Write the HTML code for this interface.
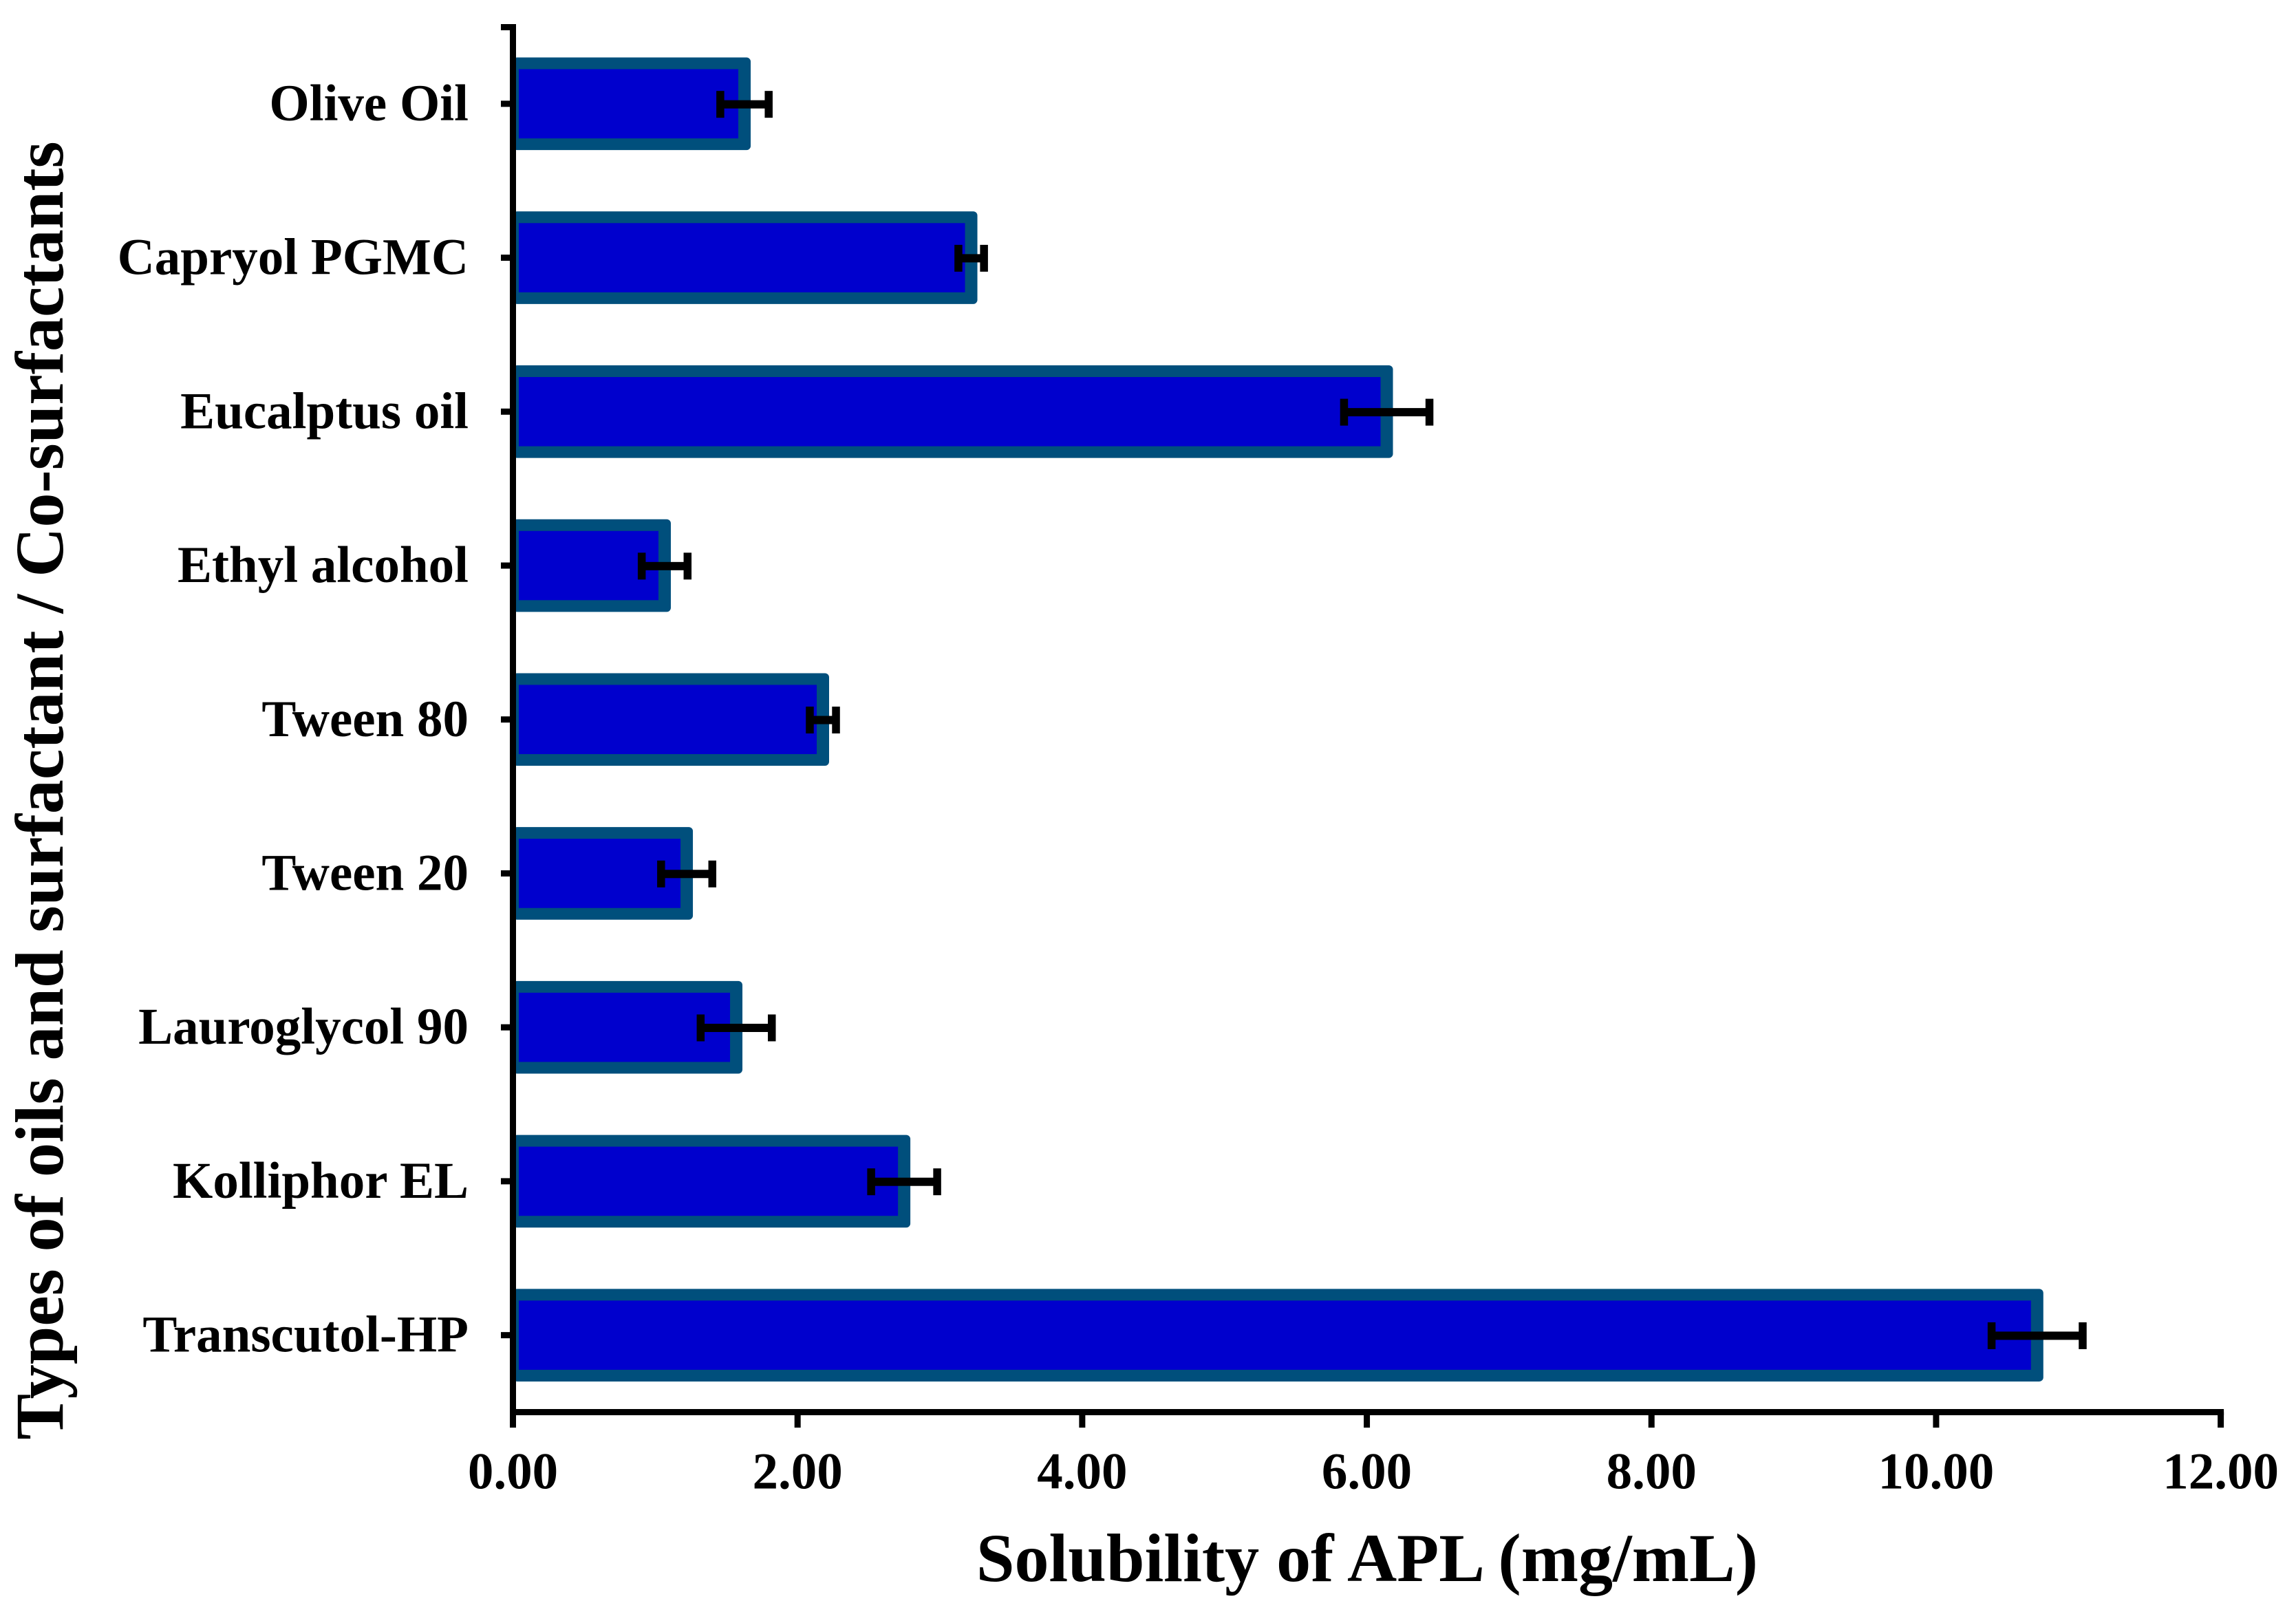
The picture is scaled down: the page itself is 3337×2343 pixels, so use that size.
<!DOCTYPE html>
<html lang="en">
<head>
<meta charset="utf-8">
<title>Solubility of APL</title>
<style>
html,body{margin:0;padding:0;background:#fff;}
svg{display:block;}
text{font-family:"Liberation Serif",serif;font-weight:bold;fill:#000;}
</style>
</head>
<body>
<svg id="chart" xmlns="http://www.w3.org/2000/svg" width="3337" height="2343" viewBox="0 0 3337 2343">
  <rect x="0" y="0" width="3337" height="2343" fill="#ffffff"/>
  <g id="bars"></g>
  <g id="axes"></g>
  <g id="errors"></g>
  <g id="labels"></g>
  <text x="1987" y="2298" text-anchor="middle" font-size="100">Solubility of APL (mg/mL)</text>
  <text x="0" y="0" text-anchor="middle" font-size="100" transform="translate(91,1149) rotate(-90)">Types of oils and surfactant / Co-surfactants</text>
</svg>
<script>
var categories = ["Olive Oil", "Capryol PGMC", "Eucalptus oil", "Ethyl alcohol", "Tween 80", "Tween 20", "Lauroglycol 90", "Kolliphor EL", "Transcutol-HP"];
var solubility = [1.627, 3.22, 6.14, 1.066, 2.178, 1.221, 1.569, 2.749, 10.71];
var errors = [0.17, 0.09, 0.30, 0.161, 0.092, 0.18, 0.25, 0.232, 0.32];
var xTicks = [0, 2, 4, 6, 8, 10, 12];
var xTickLabels = ["0.00", "2.00", "4.00", "6.00", "8.00", "10.00", "12.00"];

var NS = "http://www.w3.org/2000/svg";
var plotLeft = 745.5, plotRight = 3227.6, plotTop = 39, plotBottom = 2052.5, xMax = 12;
function xScale(v) { return plotLeft + (v / xMax) * (plotRight - plotLeft); }
function yBand(i) { return plotTop + (i + 0.5) * (plotBottom - plotTop) / categories.length; }
function mk(tag, attrs, parent) {
  var el = document.createElementNS(NS, tag);
  for (var k in attrs) { el.setAttribute(k, attrs[k]); }
  parent.appendChild(el);
  return el;
}
var barsG = document.getElementById("bars");
var axesG = document.getElementById("axes");
var errG = document.getElementById("errors");
var labG = document.getElementById("labels");
var axisW = 9, borderX = 18, borderY = 17, barH = 134.6, capH = 39, capW = 11.5, errT = 12;

categories.forEach(function (name, i) {
  var cy = yBand(i), xv = xScale(solubility[i]), ey = cy + 0.8;
  var outer = mk("rect", {x: plotLeft, y: cy - barH / 2, width: xv + borderX / 2 - plotLeft, height: barH, rx: 6, fill: "#004f7c"}, barsG);
  
  
  var inner = mk("rect", {x: plotLeft + 8.5, y: cy - barH / 2 + borderY, width: xv - borderX / 2 - plotLeft - 8.5, height: barH - 2 * borderY, fill: "#0000cd"}, barsG);
  
  

  var lo = xScale(solubility[i] - errors[i]), hi = xScale(solubility[i] + errors[i]);
  var stem = mk("rect", {x: lo, y: ey - errT / 2, width: hi - lo, height: errT, fill: "#000"}, errG);
  
  
  var capL = mk("rect", {x: lo - capW / 2, y: ey - capH / 2, width: capW, height: capH, fill: "#000"}, errG);
  
  
  var capR = mk("rect", {x: hi - capW / 2, y: ey - capH / 2, width: capW, height: capH, fill: "#000"}, errG);
  
  

  var tick = mk("rect", {x: 728, y: cy - 4.5, width: plotLeft - 728, height: axisW, fill: "#000"}, axesG);
  
  

  var lab = mk("text", {x: 681, y: cy + 24, "text-anchor": "end", "font-size": 75}, labG);
  
  
  lab.textContent = name;
});

var yAxis = mk("rect", {x: plotLeft - 4.5, y: 35, width: axisW, height: 2075 - 35, fill: "#000"}, axesG);


var yTop = mk("rect", {x: 728, y: 35, width: plotLeft - 728, height: axisW, fill: "#000"}, axesG);


var xAxis = mk("rect", {x: plotLeft - 4.5, y: plotBottom - 4.5, width: plotRight - plotLeft + 9, height: axisW, fill: "#000"}, axesG);



xTicks.forEach(function (t, i) {
  var tx = xScale(t);
  var tk = mk("rect", {x: tx - 4.5, y: plotBottom, width: axisW, height: 2075 - plotBottom, fill: "#000"}, axesG);
  
  
  var lb = mk("text", {x: tx, y: 2163.5, "text-anchor": "middle", "font-size": 75}, labG);
  
  
  lb.textContent = xTickLabels[i];
});
</script>
</body>
</html>
